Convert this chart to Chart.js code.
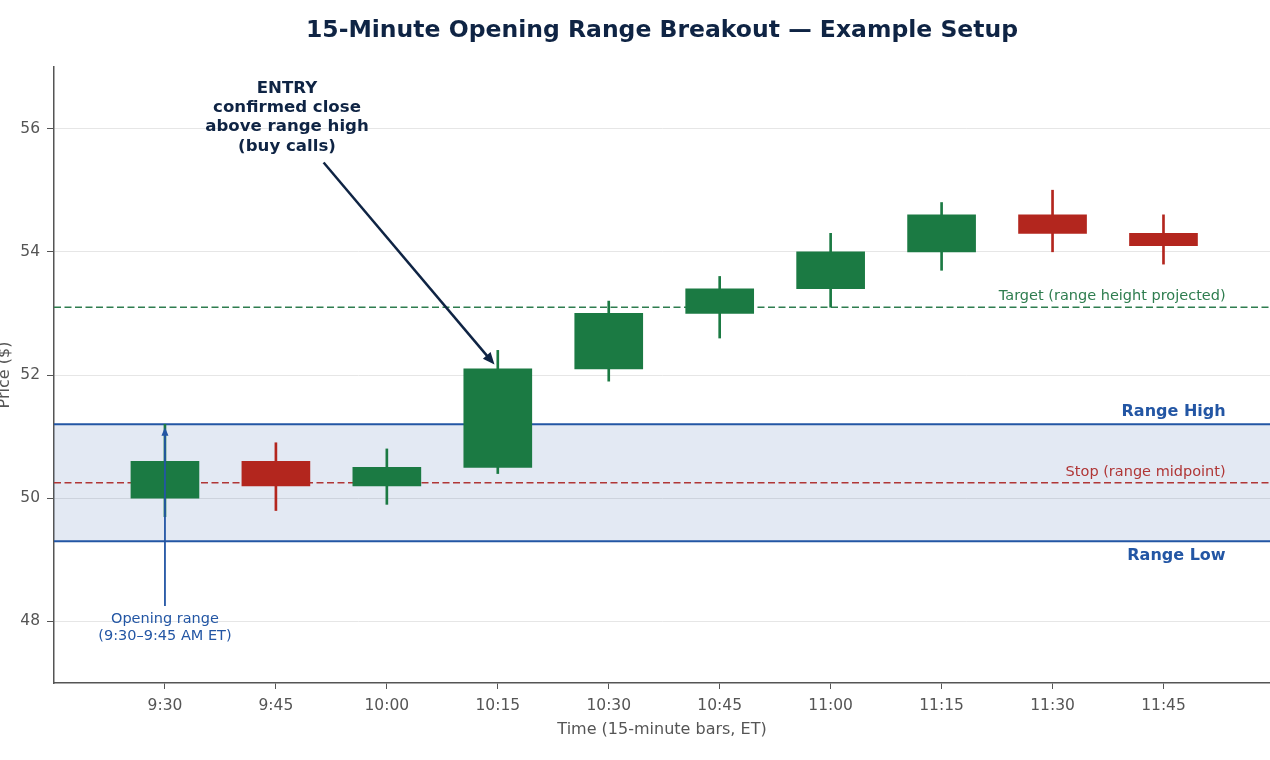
<!DOCTYPE html>
<html lang="en">
  <head>
    <meta charset="UTF-8" />
    <script src="https://cdn.jsdelivr.net/npm/chart.js@4.4.1/dist/chart.umd.min.js"></script>
    <title>Opening Range Breakout</title>
    <style>
      body {
        margin: 0;
        padding: 0;
        background: white;
      }
      .container {
        width: 1270px;
        height: 760px;
      }
    </style>
  </head>
  <body>
    <div class="container">
      <canvas id="orbChart" width="1270" height="760"></canvas>
    </div>
    <script>
      const times = ['9:30', '9:45', '10:00', '10:15', '10:30', '10:45', '11:00', '11:15', '11:30', '11:45']
      const opens = [50.0, 50.6, 50.2, 50.5, 52.1, 53.0, 53.4, 54.0, 54.6, 54.3]
      const closes = [50.6, 50.2, 50.5, 52.1, 53.0, 53.4, 54.0, 54.6, 54.3, 54.1]
      const highs = [51.2, 50.9, 50.8, 52.4, 53.2, 53.6, 54.3, 54.8, 55.0, 54.6]
      const lows = [49.7, 49.8, 49.9, 50.4, 51.9, 52.6, 53.1, 53.7, 54.0, 53.8]
      const priceTicks = [48, 50, 52, 54, 56]

      const rangeHigh = 51.2
      const rangeLow = 49.3
      const stopLevel = 50.25
      const targetLevel = 53.1

      const UP = '#1b7a43'
      const DOWN = '#b3261e'
      const BLUE = '#2356a4'
      const NAVY = '#0f2444'
      const FONT = '"DejaVu Sans", sans-serif'

      const colorFor = (i) => (closes[i] >= opens[i] ? UP : DOWN)

      const drawArrow = (ctx, x1, y1, x2, y2, color, width, head) => {
        const ang = Math.atan2(y2 - y1, x2 - x1)
        ctx.save()
        ctx.strokeStyle = color
        ctx.fillStyle = color
        ctx.lineWidth = width
        ctx.beginPath()
        ctx.moveTo(x1, y1)
        ctx.lineTo(x2 - Math.cos(ang) * head * 0.8, y2 - Math.sin(ang) * head * 0.8)
        ctx.stroke()
        ctx.beginPath()
        ctx.moveTo(x2, y2)
        ctx.lineTo(x2 - head * Math.cos(ang - 0.4), y2 - head * Math.sin(ang - 0.4))
        ctx.lineTo(x2 - head * Math.cos(ang + 0.4), y2 - head * Math.sin(ang + 0.4))
        ctx.closePath()
        ctx.fill()
        ctx.restore()
      }

      const overlay = {
        id: 'overlay',
        beforeDatasetsDraw(chart) {
          const { ctx, chartArea: a, scales } = chart
          const y = scales.y
          ctx.save()
          ctx.beginPath()
          ctx.rect(a.left, a.top, a.right - a.left, a.bottom - a.top)
          ctx.clip()
          // opening range band
          ctx.fillStyle = 'rgba(35, 86, 164, 0.13)'
          ctx.fillRect(a.left, y.getPixelForValue(rangeHigh), a.right - a.left,
            y.getPixelForValue(rangeLow) - y.getPixelForValue(rangeHigh))
          const hline = (v, color, w, dash) => {
            ctx.strokeStyle = color
            ctx.lineWidth = w
            ctx.setLineDash(dash)
            ctx.beginPath()
            ctx.moveTo(a.left, y.getPixelForValue(v))
            ctx.lineTo(a.right, y.getPixelForValue(v))
            ctx.stroke()
          }
          hline(rangeHigh, BLUE, 2, [])
          hline(rangeLow, BLUE, 2, [])
          hline(stopLevel, '#b03636', 1.6, [7, 3.5])
          hline(targetLevel, '#2e7d4f', 1.6, [7, 3.5])
          ctx.restore()
        },
        afterDatasetsDraw(chart) {
          const { ctx, scales } = chart
          const x = scales.x
          const y = scales.y
          const labelX = x.getPixelForValue(9.56)
          ctx.save()
          ctx.textAlign = 'right'
          ctx.textBaseline = 'bottom'
          ctx.fillStyle = BLUE
          ctx.font = 'bold 16px ' + FONT
          ctx.fillText('Range High', labelX, y.getPixelForValue(rangeHigh) - 4)
          ctx.textBaseline = 'top'
          ctx.fillText('Range Low', labelX, y.getPixelForValue(rangeLow) + 7)
          ctx.textBaseline = 'bottom'
          ctx.font = '14.5px ' + FONT
          ctx.fillStyle = '#b03636'
          ctx.fillText('Stop (range midpoint)', labelX, y.getPixelForValue(stopLevel) - 3)
          ctx.fillStyle = '#2e7d4f'
          ctx.fillText('Target (range height projected)', labelX, y.getPixelForValue(targetLevel) - 4)

          // opening range annotation
          drawArrow(ctx, x.getPixelForValue(0), y.getPixelForValue(48.25),
            x.getPixelForValue(0), y.getPixelForValue(51.15), BLUE, 1.8, 9)
          ctx.textAlign = 'center'
          ctx.textBaseline = 'middle'
          ctx.fillStyle = BLUE
          ctx.font = '14.5px ' + FONT
          ctx.fillText('Opening range', x.getPixelForValue(0), y.getPixelForValue(48.03))
          ctx.fillText('(9:30\u20139:45 AM ET)', x.getPixelForValue(0), y.getPixelForValue(47.76))

          // entry annotation
          drawArrow(ctx, x.getPixelForValue(1.43), y.getPixelForValue(55.45),
            x.getPixelForValue(2.97), y.getPixelForValue(52.17), NAVY, 2.5, 13)
          ctx.fillStyle = NAVY
          ctx.font = 'bold 16.6px ' + FONT
          const entryLines = ['ENTRY', 'confirmed close', 'above range high', '(buy calls)']
          const ex = x.getPixelForValue(1.1)
          const ey = y.getPixelForValue(55.71)
          entryLines.forEach((t, i) => {
            ctx.fillText(t, ex, ey - (entryLines.length - 1 - i) * 19.3)
          })

          // title and y axis title
          ctx.font = 'bold 23.5px ' + FONT
          ctx.fillText('15-Minute Opening Range Breakout \u2014 Example Setup',
            (chart.chartArea.left + chart.chartArea.right) / 2, 31)
          ctx.fillStyle = '#555555'
          ctx.font = '16px ' + FONT
          ctx.translate(5, (chart.chartArea.top + chart.chartArea.bottom) / 2)
          ctx.rotate(-Math.PI / 2)
          ctx.fillText('Price ($)', 0, 0)
          ctx.restore()
        },
      }

      const ctx = document.getElementById('orbChart').getContext('2d')
      new Chart(ctx, {
        type: 'bar',
        data: {
          datasets: [
            {
              label: 'Wicks',
              data: times.map((t, i) => ({ x: i, y: [lows[i], highs[i]] })),
              backgroundColor: times.map((t, i) => colorFor(i)),
              barThickness: 2,
              grouped: false,
              order: 2,
            },
            {
              label: 'Bodies',
              data: times.map((t, i) => ({ x: i, y: [opens[i], closes[i]] })),
              backgroundColor: times.map((t, i) => colorFor(i)),
              barThickness: 68,
              grouped: false,
              order: 1,
            },
          ],
        },
        options: {
          responsive: false,
          animation: false,
          layout: { padding: { top: 67, left: 0, right: 0, bottom: 0 } },
          plugins: {
            legend: { display: false },
            tooltip: { enabled: false },
            title: { display: false },
          },
          scales: {
            x: {
              type: 'linear',
              min: -1,
              max: 9.96,
              offset: false,
              afterBuildTicks: (s) => {
                s.ticks = times.map((t, i) => ({ value: i }))
              },
              afterFit: (s) => {
                s.height = 77
              },
              ticks: {
                callback: (v) => times[v] || '',
                color: '#555555',
                font: { family: FONT, size: 15.5 },
                padding: 8,
                maxRotation: 0,
                autoSkip: false,
              },
              grid: {
                offset: false,
                drawOnChartArea: false,
                drawTicks: true,
                tickLength: 6,
                tickColor: '#555555',
              },
              border: { color: '#555555', width: 1.5 },
              title: {
                display: true,
                text: 'Time (15-minute bars, ET)',
                color: '#555555',
                font: { family: FONT, size: 16 },
                padding: { top: 2, bottom: 21 },
              },
            },
            y: {
              min: 47,
              max: 57,
              afterBuildTicks: (s) => {
                s.ticks = priceTicks.map((v) => ({ value: v }))
              },
              afterFit: (s) => {
                s.width = 54
              },
              ticks: {
                color: '#555555',
                font: { family: FONT, size: 15.5 },
                padding: 7,
              },
              grid: {
                color: '#e6e6e6',
                lineWidth: 1,
                tickLength: 7,
                tickColor: '#555555',
              },
              border: { color: '#555555', width: 1.5 },
            },
          },
        },
        plugins: [overlay],
      })
    </script>
  </body>
</html>
